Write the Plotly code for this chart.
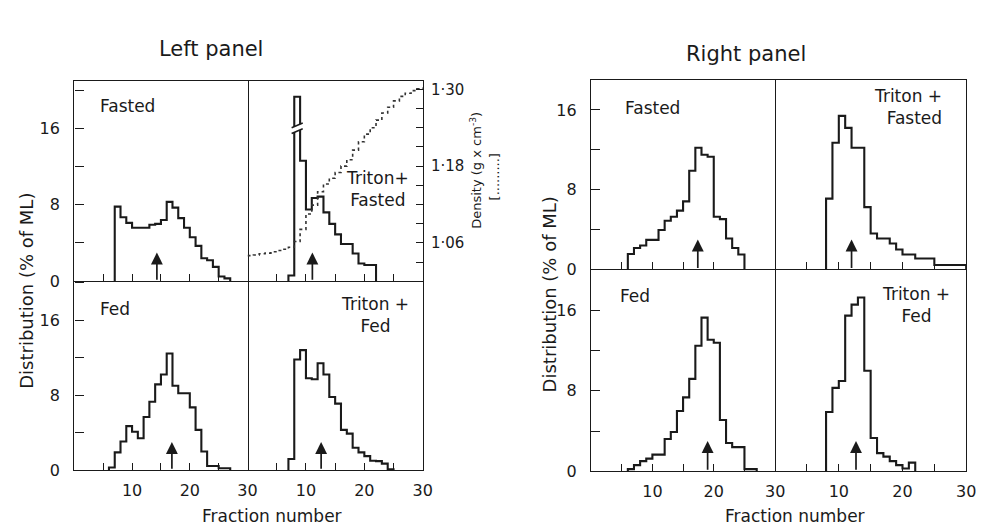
import numpy as np
import plotly.graph_objects as go

W, H = 985, 528
FONT = "DejaVu Sans"
INK = "#1a1a1a"

# ---------------- data ----------------
frac_tickvals = [5, 10, 15, 20, 25, 30]
frac_ticktext = ["", "10", "", "20", "", "30"]
dist_tickvals = [0, 4, 8, 12, 16, 20]
dist_ticktext = ["0", "", "8", "", "16", ""]
density_tickvals = [1.00, 1.03, 1.06, 1.09, 1.12, 1.15, 1.18, 1.21, 1.24, 1.27, 1.30]
density_ticktext = ["", "", "1·06", "", "", "", "1·18", "", "", "", "1·30"]

# Left panel (distribution, % of ML, per fraction starting at *_start)
left_fasted_start = 7
left_fasted = [7.8, 6.7, 6.1, 5.6, 5.6, 5.6, 5.9, 6.0, 6.4, 8.3, 7.7, 6.6, 5.6, 4.6,
               3.7, 2.4, 2.2, 1.5, 0.5, 0.3]
left_fasted_arrow = 14.3

left_triton_fasted_start = 7
left_triton_fasted = [0.6, 19.3, 12.6, 7.5, 8.7, 8.85, 7.2, 6.0, 4.9, 3.9, 3.9, 2.9,
                      1.85, 1.7, 1.7]
left_triton_fasted_arrow = 11.1
left_triton_fasted_break = 16.0

left_fed_start = 6
left_fed = [0.28, 1.9, 3.06, 4.7, 4.1, 3.4, 5.67, 7.3, 9.15, 10.2, 12.45, 9.0, 8.2, 8.2,
            6.7, 4.3, 2.0, 0.45, 0.45, 0.2, 0.2]
left_fed_arrow = 16.9

left_triton_fed_start = 7
left_triton_fed = [1.2, 11.8, 12.8, 9.8, 9.7, 11.4, 10.2, 7.8, 7.1, 4.3, 3.9, 2.4, 1.9,
                   1.5, 1.0, 0.97, 0.7, 0.1]
left_triton_fed_arrow = 12.6

# density gradient (g x cm-3) per fraction, left panel "Triton + Fasted"
density_frac = list(range(0, 31))
density_vals = [1.040, 1.041, 1.043, 1.044, 1.046, 1.048, 1.050, 1.053, 1.062, 1.081,
                1.105, 1.119, 1.140, 1.152, 1.161, 1.170, 1.180, 1.190, 1.205, 1.218,
                1.230, 1.240, 1.252, 1.263, 1.272, 1.282, 1.289, 1.294, 1.298, 1.301,
                1.303]

# Right panel
right_fasted_start = 6
right_fasted = [1.55, 2.15, 2.4, 2.97, 2.97, 3.96, 4.88, 5.28, 5.9, 6.83, 9.9, 12.2,
                11.5, 11.3, 5.28, 5.05, 3.1, 2.15, 1.5]
right_fasted_arrow = 17.4

right_triton_fasted_start = 8
right_triton_fasted = [7.1, 12.7, 15.4, 14.2, 12.2, 12.2, 6.25, 3.6, 3.1, 3.1, 2.6, 2.0,
                       1.5, 1.5, 1.1, 1.1, 1.1, 0.45, 0.45, 0.45, 0.45, 0.45]
right_triton_fasted_arrow = 12.0

right_fed_start = 6
right_fed = [0.2, 0.6, 1.0, 1.25, 1.65, 1.65, 3.2, 3.9, 6.0, 7.35, 9.2, 12.5, 15.3, 13.1,
             12.8, 5.1, 2.8, 2.4, 2.4, 0.2, 0.2]
right_fed_arrow = 19.0

right_triton_fed_start = 8
right_triton_fed = [5.9, 8.3, 8.98, 15.5, 16.6, 17.3, 10.0, 3.3, 1.8, 1.45, 1.0, 0.6,
                    0.26, 0.85]
right_triton_fed_arrow = 12.7

# ---------------- layout geometry (pixels) ----------------
# (axis index, x pixel span, y pixel span (top, bottom), y max, top row?, left column?)
panels = [
    (1, (67, 242), (74, 278), 20.9, True, True),
    (2, (242, 419), (74, 278), 20.9, True, False),
    (3, (67, 242), (278, 471), 20.15, False, True),
    (4, (242, 419), (278, 471), 20.15, False, False),
    (5, (589, 775), (72, 266), 19.05, True, True),
    (6, (775, 968), (72, 266), 19.05, True, False),
    (7, (589, 775), (266, 472), 20.1, False, True),
    (8, (775, 968), (266, 472), 20.1, False, False),
]

series = {
    1: (left_fasted_start, left_fasted, left_fasted_arrow),
    2: (left_triton_fasted_start, left_triton_fasted, left_triton_fasted_arrow),
    3: (left_fed_start, left_fed, left_fed_arrow),
    4: (left_triton_fed_start, left_triton_fed, left_triton_fed_arrow),
    5: (right_fasted_start, right_fasted, right_fasted_arrow),
    6: (right_triton_fasted_start, right_triton_fasted, right_triton_fasted_arrow),
    7: (right_fed_start, right_fed, right_fed_arrow),
    8: (right_triton_fed_start, right_triton_fed, right_triton_fed_arrow),
}


def sfx(i):
    return "" if i == 1 else str(i)


fig = go.Figure()

# density curve (dotted) on its own right-hand axis
fig.add_trace(go.Scatter(
    x=density_frac, y=density_vals, xaxis="x2", yaxis="y9", mode="lines",
    line=dict(color="#333333", width=1.6, dash="dot", shape="hv"),
    hoverinfo="skip", showlegend=False))

layout = dict(
    width=W, height=H, margin=dict(l=0, r=0, t=0, b=0),
    paper_bgcolor="white", plot_bgcolor="white", showlegend=False,
    font=dict(family=FONT, size=16, color=INK),
)

tickfont = dict(family=FONT, size=16, color=INK)
LW = 1.4

for i, (xl, xr), (yt, yb), ymax, top_row, left_col in panels:
    start, vals, arrow_x = series[i]
    fr = np.arange(start, start + len(vals), dtype=float)
    v = np.asarray(vals, dtype=float)
    x = np.concatenate([[fr[0]], fr, [fr[-1] + 1]])
    y = np.concatenate([[0.0], v, [0.0]])
    fig.add_trace(go.Scatter(
        x=x, y=y, xaxis="x" + sfx(i), yaxis="y" + sfx(i), mode="lines",
        line=dict(color=INK, width=2.1, shape="hv"),
        hoverinfo="skip", showlegend=False))

    layout["xaxis" + sfx(i)] = dict(
        domain=[xl / W, xr / W], anchor="y" + sfx(i), range=[0, 30],
        showline=True, mirror=top_row, linecolor=INK, linewidth=LW,
        ticks="inside", tickvals=frac_tickvals, ticktext=frac_ticktext,
        ticklen=7, tickwidth=1.2, tickcolor=INK, showticklabels=not top_row,
        ticklabelstandoff=5, tickfont=tickfont,
        showgrid=False, zeroline=False, fixedrange=True)
    ycfg = dict(
        domain=[1 - yb / H, 1 - yt / H], anchor="x" + sfx(i), range=[0, ymax],
        linecolor=INK, linewidth=LW,
        showgrid=False, zeroline=False, fixedrange=True)
    if left_col:
        ycfg.update(showline=True, mirror=True,
                    ticks="inside", tickvals=dist_tickvals, ticktext=dist_ticktext,
                    ticklen=9, tickwidth=1.2, tickcolor=INK, showticklabels=True,
                    ticklabelstandoff=10, tickfont=tickfont)
    else:
        ycfg.update(side="right", showline=(i != 2), mirror=False,
                    ticks="", showticklabels=False)
    layout["yaxis" + sfx(i)] = ycfg

    # upward arrow marking the fraction
    fig.add_annotation(
        x=arrow_x, y=3.0, ax=arrow_x, ay=0.0,
        xref="x" + sfx(i), yref="y" + sfx(i), axref="x" + sfx(i), ayref="y" + sfx(i),
        showarrow=True, arrowhead=2, arrowsize=1.4, arrowwidth=1.7,
        arrowcolor=INK, text="")

# density axis
layout["yaxis9"] = dict(
    overlaying="y2", anchor="x2", side="right", range=[1.0, 1.0 + 204 / 653],
    showline=True, linecolor=INK, linewidth=LW,
    ticks="inside", tickvals=density_tickvals, ticktext=density_ticktext,
    ticklen=7, tickwidth=1.2, tickcolor=INK, ticklabelstandoff=4,
    tickfont=dict(family=FONT, size=15, color=INK),
    showgrid=False, zeroline=False, fixedrange=True)

fig.update_layout(**layout)

# break marks on the off-scale peak (left panel, Triton + Fasted)
tf = np.asarray(left_triton_fasted)
pk = left_triton_fasted_start + int(np.argmax(tf))
b = left_triton_fasted_break
x0, x1 = pk - 0.45, pk + 1.45
fig.add_shape(type="path", xref="x2", yref="y2",
              path=f"M {x0},{b - 0.55} L {x1},{b - 0.05} L {x1},{b + 0.55} L {x0},{b + 0.05} Z",
              fillcolor="white", line=dict(width=0), layer="above")
for off in (-0.3, 0.3):
    fig.add_shape(type="line", xref="x2", yref="y2",
                  x0=x0, y0=b + off - 0.25, x1=x1, y1=b + off + 0.25,
                  line=dict(color=INK, width=1.5), layer="above")

# ---------------- texts ----------------
def txt(t, x, y, size=17, xanchor="center", yanchor="middle", angle=0, align="center"):
    fig.add_annotation(text=t, x=x / W, y=1 - y / H, xref="paper", yref="paper",
                       showarrow=False, xanchor=xanchor, yanchor=yanchor,
                       textangle=angle, align=align,
                       font=dict(family=FONT, size=size, color=INK))

txt("Left panel", 205, 41, size=21)
txt("Right panel", 746, 46, size=21)

txt("Fasted", 91, 99, xanchor="left")
txt("Triton+<br>Fasted", 373, 184)
txt("Fed", 91, 306, xanchor="left")
txt("Triton +<br>Fed", 371, 313)

txt("Fasted", 621, 101, xanchor="left")
txt("Triton +<br>Fasted", 946, 100, xanchor="right", align="right")
txt("Fed", 616, 293, xanchor="left")
txt("Triton +<br>Fed", 917, 302)

txt("Distribution (% of ML)", 18, 288, size=18, angle=-90)
txt("Distribution (% of ML)", 547, 291, size=18, angle=-90)
txt("Fraction number", 267, 518, size=17)
txt("Fraction number", 795, 518, size=17)

txt("Density (g x cm<sup>-3</sup>)", 472, 165, size=13, angle=-90)
txt("[.........]", 491, 172, size=13, angle=-90)

fig.write_html("out.html")
